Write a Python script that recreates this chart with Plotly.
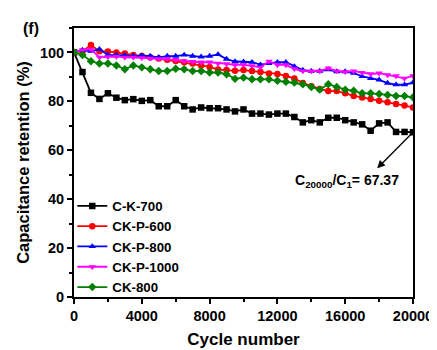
import plotly.graph_objects as go

cycles = list(range(0, 20001, 500))

ck700 = [100, 92, 83.5, 81, 83.3, 81.5, 80.5, 80.9, 80.2, 80.5, 78, 78, 80.5, 78, 76.7, 77.5,
         77.2, 77.2, 76.7, 75.9, 76.7, 75, 75, 74.6, 75, 75, 73.6, 71.4, 72.3, 71.4, 73.3, 73.3,
         72.3, 71.4, 70.6, 68, 71, 71.4, 67.5, 67.5, 67.37]
ckp600 = [100, 100.5, 103, 100.5, 100.4, 100, 99.6, 99, 98.5, 98, 97.5, 97, 96.5, 96, 95.5, 94.7,
          94.1, 93, 92.8, 92.5, 92.8, 92.4, 92, 91.4, 91.2, 90.4, 89.4, 87.5, 86.2, 85.1, 84.2,
          84.2, 83.3, 82.2, 81.6, 81, 80.3, 79.6, 78.9, 78.3, 77.5]
ckp800 = [100, 101, 100.5, 101.3, 99, 99, 98.8, 98.5, 98.8, 98.5, 98, 98.5, 98.5, 99, 98.5, 98.2,
          98.5, 99.2, 97.3, 96.3, 96.2, 96, 95, 95.5, 96, 96, 94.3, 92.8, 92.4, 92.4, 93, 92.2,
          92.2, 91.6, 90.2, 89.4, 88.8, 87.5, 86.8, 86.8, 87.7]
ckp1000 = [100, 101, 101.3, 98, 98.2, 98.3, 98, 98, 97.8, 97.6, 97.4, 97.5, 97, 96.5, 96.2, 96,
           96, 95.5, 95.3, 94.9, 94.9, 94.5, 93.9, 96.4, 94.9, 94.9, 93.3, 92.4, 92.4, 92.4, 93.6,
           92.4, 92.1, 92.4, 91.8, 91.2, 91.5, 90.8, 90.4, 89.4, 90.4]
ck800 = [100, 99, 96.4, 95.5, 95.5, 94.7, 93.1, 94.7, 93.9, 93.1, 92.4, 92.4, 93.3, 93.1, 92.4,
         92.4, 91.8, 91.8, 91.1, 89.2, 89.7, 89, 89, 89, 88.4, 88, 87.7, 87, 85.9, 84.8, 87,
         85.9, 84.8, 84.3, 83.3, 83.3, 83, 82.6, 82.2, 82.2, 81.7]

names = ["C-K-700", "CK-P-600", "CK-P-800", "CK-P-1000", "CK-800"]
colors = ["#000000", "#ff0000", "#0000ff", "#ff00ff", "#008000"]
symbols = ["square", "circle", "triangle-up", "triangle-down", "diamond"]
series = [ck700, ckp600, ckp800, ckp1000, ck800]

x_ticks = [0, 4000, 8000, 12000, 16000, 20000]
y_ticks = [0, 20, 40, 60, 80, 100]

FONT = "Liberation Sans, Arial, sans-serif"

fig = go.Figure()
for n, c, s, v in zip(names, colors, symbols, series):
    fig.add_trace(go.Scatter(
        x=cycles, y=v, name=n, mode="lines+markers",
        line=dict(color=c, width=1.8),
        marker=dict(symbol=s, size=6.5, color=c),
    ))

axis_common = dict(
    showline=True, linecolor="black", linewidth=2, mirror=True,
    ticks="outside", ticklen=5, tickwidth=1.5, tickcolor="black",
    showgrid=False, zeroline=False,
    tickfont=dict(family=FONT, size=14.5, color="black", weight="bold"),
)

fig.update_xaxes(
    range=[0, 20000], tickvals=x_ticks, ticktext=[str(t) for t in x_ticks],
    minor=dict(dtick=2000, ticks="outside", ticklen=3, tickwidth=1.5, tickcolor="black"),
    title=dict(text="Cycle number", font=dict(family=FONT, size=17, color="black", weight="bold"),
               standoff=10),
    **axis_common,
)
fig.update_yaxes(
    range=[0, 110], tickvals=y_ticks, ticktext=[str(t) for t in y_ticks],
    minor=dict(dtick=10, ticks="outside", ticklen=3, tickwidth=1.5, tickcolor="black"),
    title=dict(text="Capacitance retention (%)",
               font=dict(family=FONT, size=16.5, color="black", weight="bold"), standoff=6),
    **axis_common,
)

fig.add_annotation(
    x=17886, y=52.6, xref="x", yref="y",
    ax=20000, ay=67.37, axref="x", ayref="y",
    text="", showarrow=True, arrowhead=2, arrowsize=1.2, arrowwidth=1.3, arrowcolor="black",
)
fig.add_annotation(
    x=16100, y=47.5, xref="x", yref="y",
    text="C<sub>20000</sub>/C<sub>1</sub>= 67.37", showarrow=False,
    font=dict(family=FONT, size=14, color="black", weight="bold"),
)
fig.add_annotation(
    x=(22 - 66) / 350, y=1.0, xref="paper", yref="paper", text="(f)", showarrow=False,
    xanchor="center", yanchor="middle",
    font=dict(family=FONT, size=16, color="black", weight="bold"),
)

fig.update_layout(
    width=437, height=350,
    margin=dict(l=66, r=21, t=20, b=52),
    paper_bgcolor="white", plot_bgcolor="white",
    showlegend=True,
    legend=dict(x=-0.005, y=0.395, xanchor="left", yanchor="top",
                bgcolor="rgba(0,0,0,0)", itemwidth=30, tracegroupgap=0,
                font=dict(family=FONT, size=13.3, color="black", weight="bold")),
)

fig.write_html("out.html")
